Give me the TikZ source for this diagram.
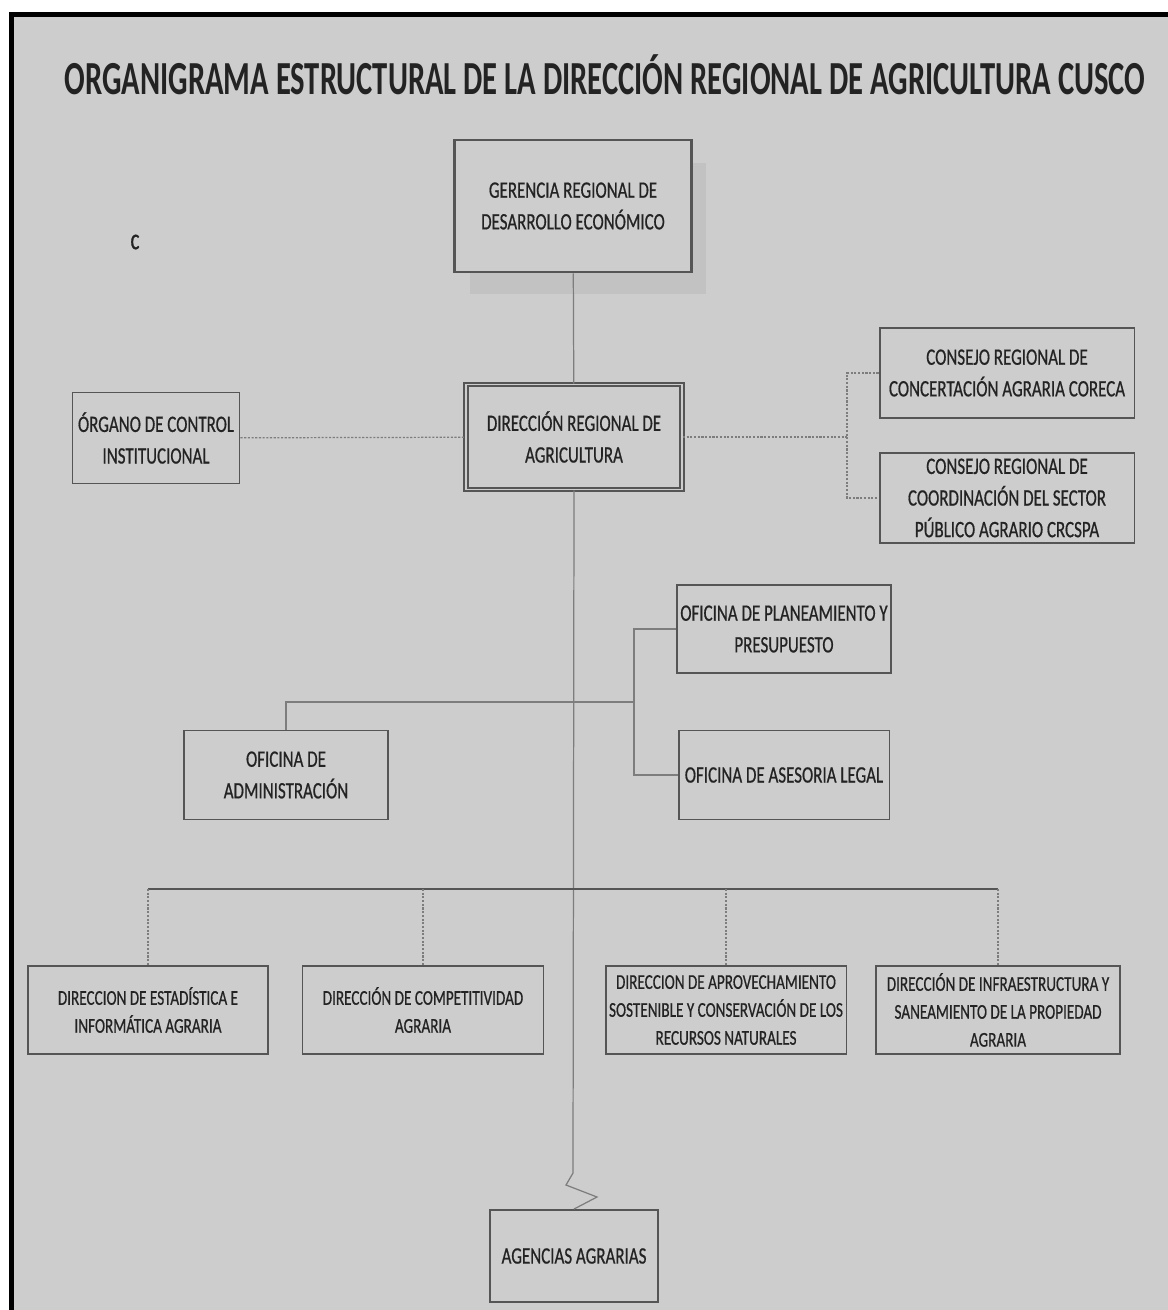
\documentclass[tikz,border=0pt]{standalone}
\usepackage{fontspec}
\setmainfont{Carlito}[FakeStretch=0.72,FakeBold=0.6]
\newfontfamily\titlefont{Carlito}[FakeStretch=0.645]
\usepackage{tikz}
\usetikzlibrary{positioning,shadows,calc}
\definecolor{fondo} {RGB}{205,205,205}
\definecolor{borde} {RGB}{85,85,85}
\definecolor{linea} {RGB}{125,125,125}
\definecolor{sombra}{RGB}{194,194,194}
\definecolor{texto} {RGB}{35,35,35}

\begin{document}
\begin{tikzpicture}[x=0.02cm,y=-0.02cm,font=\fontsize{13.4}{18}\selectfont,
    unidad/.style={draw=borde,line width=1.1pt,fill=fondo,align=center,text=texto,inner sep=2pt},
    directa/.style={unidad,font=\fontsize{12}{15.9}\selectfont},
    conn/.style={draw=linea,line width=0.7pt},
    punteado/.style={conn,dash pattern=on 1.2pt off 0.9pt},
    barra/.style={draw=borde,line width=1.4pt}]
  % marco
  \useasboundingbox (0,0) rectangle (1168,1310);
  \fill[white] (0,0) rectangle (1168,1310);
  \fill[fondo] (9,12) rectangle (1168,1310);
  \fill[black] (9,12) rectangle (14,1310);
  \fill[black] (9,12) rectangle (1168,17);

  \node[text=texto] (titulo) at (605,75)
    {\titlefont\bfseries\fontsize{27}{30}\selectfont ORGANIGRAMA ESTRUCTURAL DE LA DIRECCIÓN REGIONAL DE AGRICULTURA CUSCO};
  \node[text=texto] (marca) at (135,242) {\fontsize{17}{17}\selectfont c};

  % alta direccion
  \node[unidad,line width=1.6pt,minimum width=4.74cm,minimum height=2.64cm,
        drop shadow={shadow xshift=0.3cm,shadow yshift=-0.45cm,fill=sombra,opacity=1}]
    (gerencia) at (573,206) {GERENCIA REGIONAL DE\\DESARROLLO ECONÓMICO};
  \node[unidad,double=fondo,double distance=0.8pt,minimum width=4.32cm,minimum height=2.1cm]
    (direccion) at (574,437) {DIRECCIÓN REGIONAL DE\\AGRICULTURA};
  \node[unidad,minimum width=3.34cm,minimum height=1.82cm]
    (organo) at (156,438) {ÓRGANO DE CONTROL\\INSTITUCIONAL};
  \node[unidad,minimum width=5.1cm,minimum height=1.8cm]
    (coreca) at (1007,373) {CONSEJO REGIONAL DE\\CONCERTACIÓN AGRARIA CORECA};
  \node[unidad,minimum width=5.1cm,minimum height=1.8cm]
    (crcspa) at (1007,498) {CONSEJO REGIONAL DE\\COORDINACIÓN DEL SECTOR\\PÚBLICO AGRARIO CRCSPA};

  % apoyo y asesoria
  \node[unidad,minimum width=4.22cm,minimum height=1.76cm]
    (planea) at (784,629) {OFICINA DE PLANEAMIENTO Y\\PRESUPUESTO};
  \node[unidad,minimum width=4.22cm,minimum height=1.78cm]
    (legal) at (784,775) {OFICINA DE ASESORIA LEGAL};
  \node[unidad,minimum width=4.08cm,minimum height=1.78cm]
    (admin) at (286,775) {OFICINA DE\\ADMINISTRACIÓN};

  % organos de linea
  \node[directa,minimum width=4.8cm,minimum height=1.76cm]
    (estad) at (148,1010) {DIRECCION DE ESTADÍSTICA E\\INFORMÁTICA AGRARIA};
  \node[directa,minimum width=4.82cm,minimum height=1.76cm]
    (compet) at (423,1010) {DIRECCIÓN DE COMPETITIVIDAD\\AGRARIA};
  \node[directa,minimum width=4.8cm,minimum height=1.76cm]
    (aprov) at (726,1010) {DIRECCION DE APROVECHAMIENTO\\SOSTENIBLE Y CONSERVACIÓN DE LOS\\RECURSOS NATURALES};
  \node[directa,minimum width=4.88cm,minimum height=1.76cm]
    (infra) at (998,1010) {DIRECCIÓN DE INFRAESTRUCTURA Y\\SANEAMIENTO DE LA PROPIEDAD\\AGRARIA};
  \node[unidad,minimum width=3.36cm,minimum height=1.84cm]
    (agencias) at (574,1256) {AGENCIAS AGRARIAS};

  % puntos de quiebre
  \coordinate (nudo) at (847,437);
  \coordinate (rama) at (634,702);
  \coordinate (linea) at (573,889);
  \coordinate (corte) at (573,1173);

  % conectores
  \draw[conn] (gerencia) -- (direccion);
  \draw[punteado] (organo) -- (direccion);
  \draw[punteado] (direccion.east) -- (nudo);
  \draw[punteado] (coreca.west) -| (nudo) |- (crcspa.west);
  \draw[conn] (direccion.south) -- (corte)
    -- ++(-7,12) -- ++(31,12) -- (agencias.north);
  \draw[conn] (planea.west) -| (rama) |- (legal.west);
  \draw[conn] (rama) -| (admin.north);
  \draw[barra] (estad.north |- linea) -- (infra.north |- linea);
  \foreach \d in {estad,compet,aprov,infra}
    \draw[punteado] (\d.north |- linea) -- (\d.north);
\end{tikzpicture}
\end{document}
